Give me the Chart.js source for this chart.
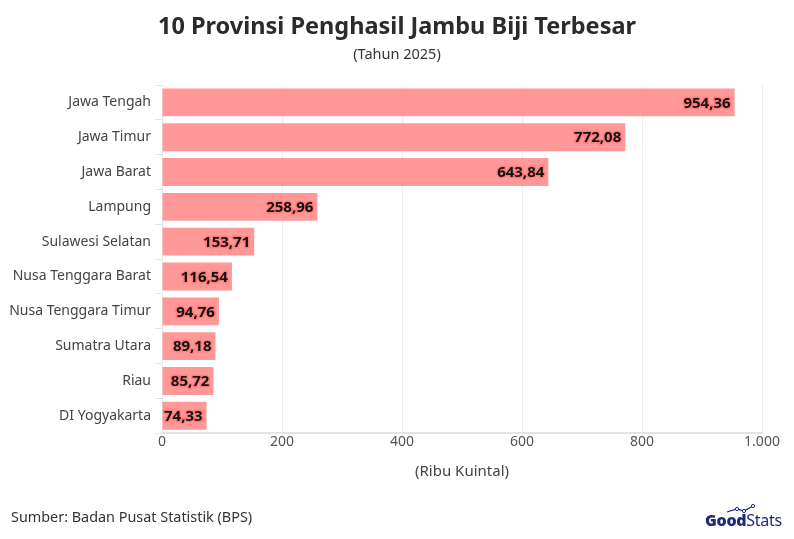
<!DOCTYPE html>
<html>
<head>
<meta charset="utf-8">
<script src="https://cdn.jsdelivr.net/npm/chart.js@4"></script>
<style>
  html, body { margin: 0; padding: 0; background: #fff; }
  #wrap { position: relative; width: 794px; height: 539px; font-family: "Noto Sans", sans-serif; }
  #title { position: absolute; left: 0; width: 794px; top: 8px; text-align: center; font-size: 23.5px; font-weight: bold; color: #2b2b2b; line-height: 34px; }
  #subtitle { position: absolute; left: 0; width: 794px; top: 43px; text-align: center; font-size: 14.5px; color: #333; line-height: 20px; }
  #source { position: absolute; left: 11px; top: 507px; font-size: 14.4px; color: #333; }
  #logo { position: absolute; left: 705px; top: 504px; width: 82px; height: 26px; }
  #logo .txt { position: absolute; left: 0; top: 5px; font-size: 16px; color: #1d2a78; letter-spacing: -0.3px; white-space: nowrap; }
  #logo svg { position: absolute; left: 18px; top: 0; }
  canvas { position: absolute; left: 0; top: 0; }
</style>
</head>
<body>
<div id="wrap">
  <canvas id="chart" width="794" height="539"></canvas>
  <div id="title">10 Provinsi Penghasil Jambu Biji Terbesar</div>
  <div id="subtitle">(Tahun 2025)</div>
  <div id="source">Sumber: Badan Pusat Statistik (BPS)</div>
  <div id="logo">
    <svg width="40" height="10" viewBox="0 0 40 10">
      <polyline points="4,8 14,5 21,7 30,2" fill="none" stroke="#1d2a78" stroke-width="1.2"/>
      <circle cx="14" cy="5" r="1.6" fill="#fff" stroke="#1d2a78" stroke-width="1"/>
      <circle cx="21" cy="7" r="1.6" fill="#fff" stroke="#1d2a78" stroke-width="1"/>
      <circle cx="30" cy="2" r="1.6" fill="#fff" stroke="#1d2a78" stroke-width="1"/>
    </svg>
    <div class="txt"><b style="font-weight:900">Good</b>Stats</div>
  </div>
</div>
<script>
var provinces = ['Jawa Tengah', 'Jawa Timur', 'Jawa Barat', 'Lampung', 'Sulawesi Selatan',
  'Nusa Tenggara Barat', 'Nusa Tenggara Timur', 'Sumatra Utara', 'Riau', 'DI Yogyakarta'];
var production = [954.36, 772.08, 643.84, 258.96, 153.71, 116.54, 94.76, 89.18, 85.72, 74.33];
var xTicks = [0, 200, 400, 600, 800, 1000];

function formatId(v, decimals)
{
    var s = v.toFixed(decimals);
    var parts = s.split('.');
    parts[0] = parts[0].replace(/\B(?=(\d{3})+(?!\d))/g, '.');
    return parts.length > 1 ? parts[0] + ',' + parts[1] : parts[0];
}

var barLabels = {
    id: 'barLabels',
    afterDatasetsDraw: function(chart) {
        var ctx = chart.ctx;
        var meta = chart.getDatasetMeta(0);
        ctx.save();
        ctx.font = 'bold 15px "Noto Sans", sans-serif';
        ctx.textAlign = 'right';
        ctx.textBaseline = 'middle';
        meta.data.forEach(function(bar, i) {
            var txt = formatId(production[i], 2);
            ctx.lineWidth = 3;
            ctx.lineJoin = 'round';
            ctx.strokeStyle = 'rgba(255,105,105,0.55)';
            ctx.strokeText(txt, bar.x - 4, bar.y + 1);
            ctx.fillStyle = '#111';
            ctx.fillText(txt, bar.x - 4, bar.y + 1);
        });
        ctx.restore();
    }
};

new Chart(document.getElementById('chart'), {
    type: 'bar',
    data: {
        labels: provinces,
        datasets: [{
            data: production,
            backgroundColor: '#ff9896',
            borderWidth: 0,
            barPercentage: 0.8,
            categoryPercentage: 1.0
        }]
    },
    options: {
        indexAxis: 'y',
        responsive: false,
        animation: false,
        layout: { padding: { left: 10, right: 32, top: 85, bottom: 54 } },
        plugins: {
            legend: { display: false },
            tooltip: { enabled: false }
        },
        scales: {
            x: {
                min: 0,
                max: 1000,
                afterBuildTicks: function(scale) {
                    scale.ticks = xTicks.map(function(v) { return { value: v }; });
                },
                ticks: {
                    color: '#555',
                    font: { family: '"Noto Sans", sans-serif', size: 14 },
                    padding: 0,
                    callback: function(v) { return formatId(v, 0); }
                },
                grid: { color: '#ececec', drawTicks: false },
                border: { color: '#e3e3e3', width: 2 },
                title: {
                    display: true,
                    text: '(Ribu Kuintal)',
                    color: '#444',
                    font: { family: '"Noto Sans", sans-serif', size: 15 },
                    padding: { top: 13 }
                }
            },
            y: {
                afterFit: function(scale) { scale.width = 152; },
                ticks: {
                    color: '#444',
                    font: { family: '"Noto Sans", sans-serif', size: 14 },
                    padding: 4
                },
                grid: { drawOnChartArea: false, color: '#e5e5e5', tickLength: 7 },
                border: { color: '#e8e8e8', width: 1 }
            }
        }
    },
    plugins: [barLabels]
});
</script>
</body>
</html>
